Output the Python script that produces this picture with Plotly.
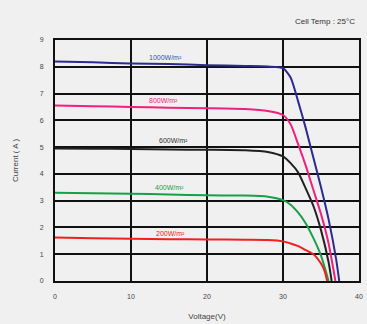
import plotly.graph_objects as go

# Data
series_names = ["1000W/m²", "800W/m²", "600W/m²", "400W/m²", "200W/m²"]
series_colors = ["#2a2a90", "#f0207f", "#202020", "#18a048", "#f02020"]
label_colors = ["#3055b0", "#f0207f", "#303030", "#18a048", "#f02020"]

v_1000 = [0, 5, 10, 15, 20, 25, 28, 30, 31, 32, 33, 34, 35, 36, 37, 37.4]
i_1000 = [8.2, 8.17, 8.12, 8.1, 8.06, 8.03, 8.01, 7.95, 7.6, 6.7, 5.7, 4.6, 3.5, 2.3, 0.8, 0]

v_800 = [0, 5, 10, 15, 20, 25, 28, 30, 31, 32, 33, 34, 35, 36, 36.9]
i_800 = [6.55, 6.53, 6.5, 6.47, 6.45, 6.42, 6.35, 6.2, 5.85, 5.1, 4.3, 3.4, 2.5, 1.4, 0]

v_600 = [0, 5, 10, 15, 20, 25, 28, 30, 31, 32, 33, 34, 35, 36, 36.4]
i_600 = [4.95, 4.94, 4.93, 4.91, 4.9, 4.88, 4.82, 4.65, 4.4, 4.05, 3.45, 2.8, 1.9, 0.7, 0]

v_400 = [0, 5, 10, 15, 20, 25, 28, 30, 31, 32, 33, 34, 35, 35.6, 36.0]
i_400 = [3.3, 3.28, 3.26, 3.23, 3.2, 3.19, 3.15, 3.02, 2.85, 2.55, 2.15, 1.6, 0.95, 0.4, 0]

v_200 = [0, 5, 10, 15, 20, 25, 28, 30, 31, 32, 33, 34, 35, 35.5, 35.8]
i_200 = [1.62, 1.6, 1.58, 1.56, 1.55, 1.54, 1.53, 1.48, 1.4, 1.3, 1.15, 1.0, 0.65, 0.35, 0]

label_x = [14.5, 14.3, 15.6, 15.0, 15.2]
label_y = [8.36, 6.75, 5.26, 3.5, 1.79]

x_ticks = [0, 10, 20, 30, 40]
y_ticks = [0, 1, 2, 3, 4, 5, 6, 7, 8, 9]

volts = [v_1000, v_800, v_600, v_400, v_200]
currents = [i_1000, i_800, i_600, i_400, i_200]

fig = go.Figure()
for name, col, v, i in zip(series_names, series_colors, volts, currents):
    fig.add_trace(go.Scatter(x=v, y=i, mode="lines", name=name,
                             line=dict(color=col, width=2, shape="spline", smoothing=0.6),
                             showlegend=False))

for name, col, lx, ly in zip(series_names, label_colors, label_x, label_y):
    fig.add_annotation(x=lx, y=ly, text=name, showarrow=False,
                       font=dict(size=7, color=col, family="Arial, Liberation Sans"),
                       xanchor="center", yanchor="middle")

fig.add_annotation(x=1, y=1, xref="paper", yref="paper", xanchor="right", yanchor="bottom",
                   xshift=-2, yshift=12, text="Cell Temp : 25°C", showarrow=False,
                   font=dict(size=8, color="#333", family="Arial, Liberation Sans"))

axis_common = dict(showgrid=True, gridcolor="#111", gridwidth=2, showline=True,
                   linecolor="#111", linewidth=2, mirror=True, zeroline=False,
                   ticks="", tickfont=dict(size=7, color="#444", family="Arial, Liberation Sans"))

fig.update_xaxes(range=[0, 40], tickvals=x_ticks, ticklabelstandoff=8, **axis_common,
                 title=dict(text="Voltage(V)", font=dict(size=8, color="#444"), standoff=14))
fig.update_yaxes(range=[0, 9], tickvals=y_ticks, ticklabelstandoff=8, **axis_common,
                 title=dict(text="Current ( A )", font=dict(size=8, color="#444"), standoff=20))

fig.update_layout(width=367, height=324, margin=dict(l=55, r=4, t=40, b=43),
                  paper_bgcolor="#f0f0f0", plot_bgcolor="#f0f0f0",
                  font=dict(family="Arial, Liberation Sans"))

fig.write_html("out.html", config={"displayModeBar": False},
               post_script="document.body.style.margin='0';document.body.style.background='#f0f0f0';")
